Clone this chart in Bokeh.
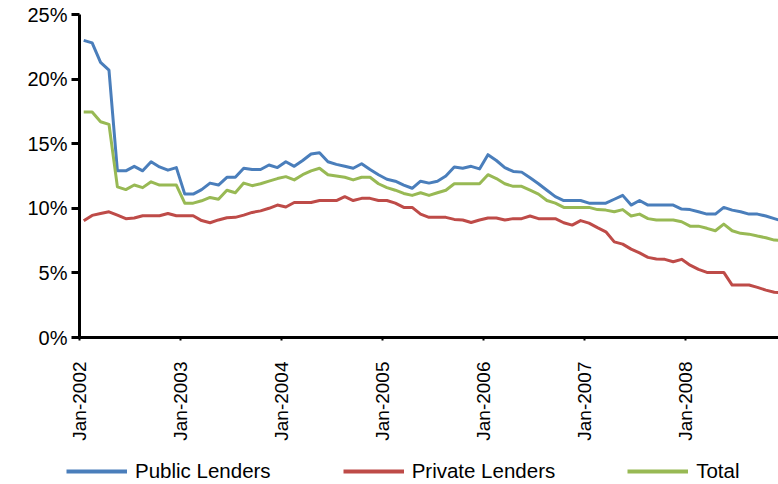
import math
import pandas as pd

from bokeh.plotting import figure
from bokeh.models import Range1d, FixedTicker, Legend, LegendItem
from bokeh.embed import file_html
from bokeh.resources import INLINE

# 月度数据，2002年1月起，单位 %
public = [23.0, 22.8, 21.3, 20.7, 12.9, 12.9, 13.25, 12.9, 13.6, 13.2, 12.95, 13.15,
          11.1, 11.1, 11.45, 11.95, 11.8, 12.4, 12.4, 13.1, 13.0, 13.0, 13.35, 13.15,
          13.6, 13.25, 13.7, 14.2, 14.3, 13.6, 13.4, 13.25, 13.1, 13.45, 13.0, 12.6,
          12.25, 12.1, 11.8, 11.55, 12.1, 11.95, 12.1, 12.5, 13.2, 13.1, 13.25, 13.05,
          14.15, 13.7, 13.15, 12.85, 12.8, 12.36, 11.9, 11.4, 10.9, 10.6, 10.6, 10.6,
          10.4, 10.4, 10.4, 10.7, 11.0, 10.25, 10.6, 10.25, 10.25, 10.25, 10.25, 9.94,
          9.9, 9.73, 9.55, 9.55, 10.07, 9.86, 9.73, 9.55, 9.55, 9.4, 9.2, 9.0]
private = [9.03, 9.45, 9.6, 9.73, 9.47, 9.2, 9.25, 9.42, 9.42, 9.42, 9.6, 9.42,
           9.42, 9.42, 9.05, 8.88, 9.1, 9.27, 9.3, 9.47, 9.68, 9.8, 10.0, 10.25,
           10.1, 10.45, 10.45, 10.45, 10.6, 10.6, 10.6, 10.9, 10.6, 10.77, 10.77, 10.6,
           10.6, 10.4, 10.07, 10.07, 9.55, 9.3, 9.3, 9.3, 9.14, 9.09, 8.9, 9.09,
           9.25, 9.25, 9.09, 9.2, 9.2, 9.4, 9.2, 9.2, 9.2, 8.88, 8.7, 9.05,
           8.85, 8.5, 8.18, 7.4, 7.23, 6.84, 6.55, 6.2, 6.07, 6.05, 5.86, 6.05,
           5.6, 5.27, 5.04, 5.04, 5.04, 4.06, 4.06, 4.06, 3.88, 3.67, 3.5, 3.45]
total = [17.46, 17.46, 16.7, 16.5, 11.66, 11.45, 11.8, 11.6, 12.05, 11.8, 11.8, 11.8,
         10.4, 10.4, 10.58, 10.84, 10.7, 11.4, 11.2, 11.95, 11.75, 11.9, 12.1, 12.3,
         12.45, 12.2, 12.6, 12.9, 13.1, 12.6, 12.5, 12.4, 12.2, 12.4, 12.4, 11.9,
         11.6, 11.4, 11.15, 11.0, 11.2, 11.0, 11.2, 11.4, 11.9, 11.9, 11.9, 11.9,
         12.6, 12.3, 11.9, 11.7, 11.7, 11.4, 11.1, 10.6, 10.4, 10.07, 10.07, 10.07,
         10.07, 9.9, 9.86, 9.73, 9.9, 9.4, 9.55, 9.2, 9.09, 9.09, 9.09, 8.96,
         8.62, 8.62, 8.45, 8.26, 8.78, 8.26, 8.06, 8.0, 7.85, 7.72, 7.54, 7.5]

names = ["Public Lenders", "Private Lenders", "Total"]
colors = ["#4A7EBB", "#BE4B48", "#98B954"]
years = ["Jan-2002", "Jan-2003", "Jan-2004", "Jan-2005", "Jan-2006", "Jan-2007", "Jan-2008"]
y_ticks = [0, 5, 10, 15, 20, 25]

months = pd.date_range("2002-01-01", periods=len(public), freq="MS")
x = [i + 0.5 for i in range(len(months))]  # 点位于每月的中间
series = [public, private, total]

FONT = "Liberation Sans"

p = figure(width=778, height=452, output_backend="svg", toolbar_location=None,
           x_range=Range1d(0, 83.0), y_range=Range1d(0, 25),
           min_border_left=79, min_border_right=0, min_border_top=14, min_border_bottom=115)
p.outline_line_color = None
p.xgrid.grid_line_color = None
p.ygrid.grid_line_color = None

for ys, c in zip(series, colors):
    p.line(x, ys, line_width=3, color=c, line_join="round")

# 坐标轴
xa = p.xaxis[0]
xa.ticker = FixedTicker(ticks=[12 * k for k in range(len(years))], minor_ticks=[])
xa.major_label_overrides = {12 * k: s for k, s in enumerate(years)}
xa.major_label_orientation = math.pi / 2
xa.major_label_text_font = FONT
xa.major_label_text_font_size = "19px"
xa.major_label_text_color = "black"
xa.major_label_standoff = 21
xa.axis_line_width = 3
xa.axis_line_color = "black"
xa.major_tick_out = 3
xa.major_tick_in = 0
xa.major_tick_line_width = 2
xa.minor_tick_line_color = None

ya = p.yaxis[0]
ya.ticker = FixedTicker(ticks=y_ticks, minor_ticks=[])
ya.major_label_overrides = {t: f"{t}%" for t in y_ticks}
ya.major_label_text_font = FONT
ya.major_label_text_font_size = "20px"
ya.major_label_text_color = "black"
ya.major_label_standoff = 4
ya.axis_line_width = 3
ya.axis_line_color = "black"
ya.major_tick_out = 8
ya.major_tick_in = 0
ya.major_tick_line_width = 3
ya.minor_tick_line_color = None

# 图例：单独一个小图，数据线画在可视范围之外，只显示图例
leg = figure(width=778, height=32, output_backend="svg", toolbar_location=None,
             x_axis_type=None, y_axis_type=None, min_border=0,
             x_range=Range1d(0, 83.0), y_range=Range1d(100, 101))
leg.outline_line_color = None
leg.xgrid.grid_line_color = None
leg.ygrid.grid_line_color = None
items = []
for n, ys, c in zip(names, series, colors):
    r = leg.line(x, ys, line_width=4, color=c)
    items.append(LegendItem(label=n, renderers=[r]))
legend = Legend(items=items, orientation="horizontal", location=(66, 1),
                padding=0, margin=0, spacing=72, glyph_width=61, glyph_height=20,
                label_standoff=8, label_height=20,
                label_text_font=FONT, label_text_font_size="20.5px",
                label_text_color="black",
                border_line_color=None, background_fill_alpha=0)
leg.add_layout(legend, "center")

open("out.html", "w").write(file_html([p, leg], INLINE))
